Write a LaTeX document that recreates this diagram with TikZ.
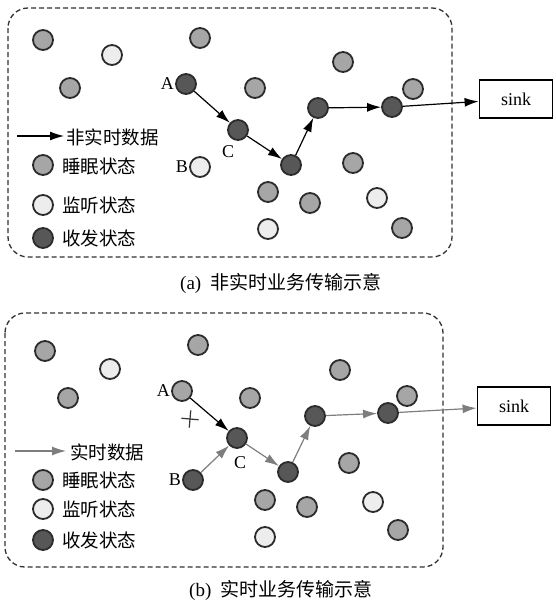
\documentclass[tikz,border=0pt]{standalone}
\usepackage{fontspec}
\setmainfont{Liberation Serif}
\newfontfamily\cjk{Noto Sans CJK SC}
\usepackage{tikz}
\usetikzlibrary{arrows.meta, positioning, shapes.misc}
\definecolor{sleepgray}{HTML}{A6A6A6}
\definecolor{listengray}{HTML}{EDEDED}
\definecolor{txgray}{HTML}{575757}
\definecolor{rimgray}{HTML}{2B2B2B}
\definecolor{rtgray}{HTML}{7E7E7E}
\tikzset{
  sensor/.style={
    circle,
    minimum size=20pt,
    inner sep=0pt,
    draw=rimgray,
    line width=1.8pt
  },
  sleepnode/.style={sensor, fill=sleepgray},
  listennode/.style={sensor, fill=listengray},
  txnode/.style={sensor, fill=txgray},
  dashbox/.style={
    draw=black!80,
    line width=1.3pt,
    dash pattern=on 5pt off 3pt,
    rounded corners=20pt
  },
  sinkbox/.style={
    minimum width=73pt,
    minimum height=38pt,
    draw=black,
    line width=1.8pt,
    font=\fontsize{18pt}{21pt}\selectfont
  },
  lbl/.style={inner sep=1pt, font=\fontsize{18pt}{21pt}\selectfont},
  legtext/.style={anchor=west, inner sep=0pt, font=\cjk\fontsize{18.5pt}{21pt}\selectfont},
  caption/.style={font=\fontsize{19pt}{22pt}\selectfont},
  arrow/.style={draw, line width=1.2pt, -{Latex[length=14pt,width=9pt]}},
  rtarrow/.style={arrow, draw=rtgray, fill=rtgray}
}

\begin{document}
\begin{tikzpicture}[x=1pt, y=-1pt, every edge/.style={arrow}]
  \useasboundingbox (0,0) rectangle (555,605);

  % (a) non real-time
  \draw[dashbox] (8,8) rectangle (452,257);
  \foreach \x/\y [count=\i] in {43/40, 200/38, 70/88, 255/88, 268/192, 343/62,
      413/89, 353/163, 310/203, 402/228}
    \node (sa\i) [sleepnode] at (\x,\y) {};
  \foreach \x/\y [count=\i] in {112/55, 268/229, 377/198}
    \node (la\i) [listennode] at (\x,\y) {};
  \node (aA) [txnode] at (186,84) {};
  \node (aB) [listennode] at (200,167) {};
  \node (aC) [txnode] at (238,130) {};
  \node (aD) [txnode] at (291,165) {};
  \node (aE) [txnode] at (318,108) {};
  \node (aF) [txnode] at (392,107) {};
  \node (aLA) [lbl, left=0pt of aA] {A};
  \node (aLB) [lbl, left=0pt of aB] {B};
  \node (aLC) [lbl] at (228,152) {C};
  \node (aSink) [sinkbox] at (516,99) {sink};
  \path
  (aA) edge (aC)
  (aC) edge (aD)
  (aD) edge (aE)
  (aE) edge (aF)
  (aF) edge (aSink)
  ;
  % legend (a)
  \coordinate (aL1) at (17,136);
  \coordinate (aL2) at (64,136);
  \path (aL1) edge (aL2);
  \node (aT0) [legtext] at (66,137) {非实时数据};
  \node (aK1) [sleepnode] at (43,165) {};
  \node (aK2) [listennode] at (43,205) {};
  \node (aK3) [txnode] at (43,238) {};
  \node (aT1) [legtext] at (62,166) {睡眠状态};
  \node (aT2) [legtext] at (62,205) {监听状态};
  \node (aT3) [legtext] at (62,238) {收发状态};
  \node (capA) [caption] at (281,283) {(a)\ \ {\cjk 非实时业务传输示意}};

  % (b) real-time
  \draw[dashbox] (5,313) rectangle (443,567);
  \foreach \x/\y [count=\i] in {45/351, 198/345, 68/398, 250/398, 265/500, 340/370,
      407/396, 349/463, 307/507, 398/530}
    \node (sb\i) [sleepnode] at (\x,\y) {};
  \foreach \x/\y [count=\i] in {110/369, 265/537, 373/502}
    \node (lb\i) [listennode] at (\x,\y) {};
  \node (bA) [sleepnode] at (182,391) {};
  \node (bB) [txnode] at (193,480) {};
  \node (bC) [txnode] at (237,438) {};
  \node (bD) [txnode] at (288,472) {};
  \node (bE) [txnode] at (315,416) {};
  \node (bF) [txnode] at (388,413) {};
  \node (bLA) [lbl, left=0pt of bA] {A};
  \node (bLB) [lbl, left=0pt of bB] {B};
  \node (bLC) [lbl] at (240,463) {C};
  \node (bX) [cross out, draw=black!80, line width=1.2pt, minimum size=11pt,
    inner sep=0pt, rotate=40] at (190,419) {};
  \node (bSink) [sinkbox] at (514,406) {sink};
  \path
  (bA) edge (bC)
  (bB) edge[rtarrow] (bC)
  (bC) edge[rtarrow] (bD)
  (bD) edge[rtarrow] (bE)
  (bE) edge[rtarrow] (bF)
  (bF) edge[rtarrow] (bSink)
  ;
  % legend (b)
  \coordinate (bL1) at (15,451);
  \coordinate (bL2) at (66,451);
  \path (bL1) edge[rtarrow] (bL2);
  \node (bT0) [legtext] at (70,452) {实时数据};
  \node (bK1) [sleepnode] at (43,480) {};
  \node (bK2) [listennode] at (43,509) {};
  \node (bK3) [txnode] at (43,540) {};
  \node (bT1) [legtext] at (62,480) {睡眠状态};
  \node (bT2) [legtext] at (62,509) {监听状态};
  \node (bT3) [legtext] at (62,540) {收发状态};
  \node (capB) [caption] at (281,590) {(b)\ \ {\cjk 实时业务传输示意}};
\end{tikzpicture}
\end{document}
